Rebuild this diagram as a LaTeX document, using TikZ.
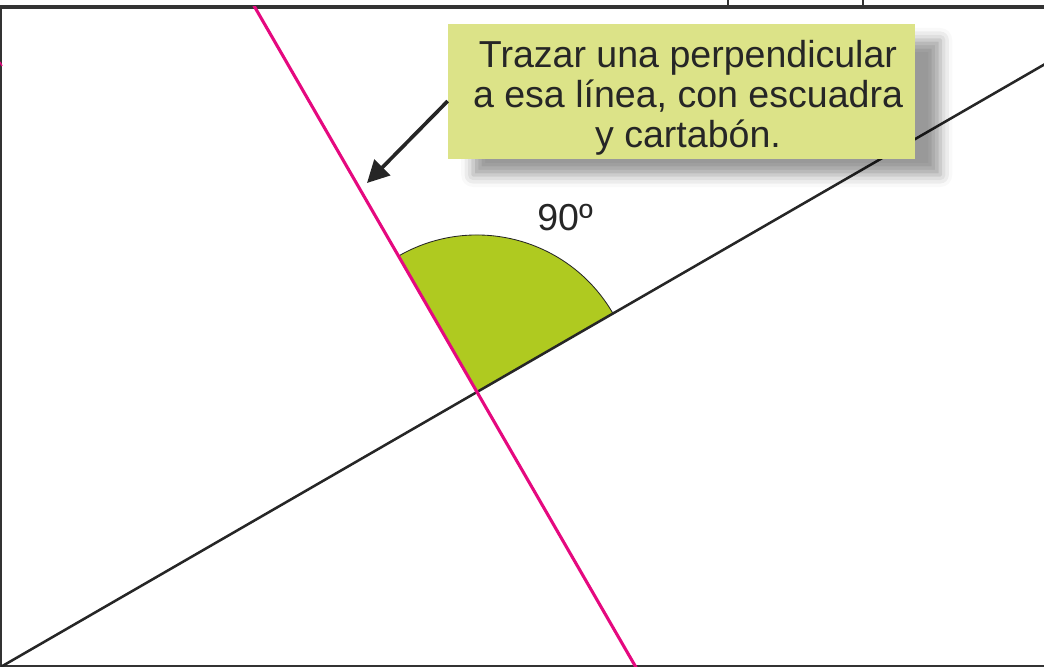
\documentclass[tikz,border=0pt]{standalone}
\usepackage{fontspec}
\setmainfont{Liberation Sans}
\usepackage{xcolor}
\usetikzlibrary{arrows.meta,shadows.blur}

\definecolor{rosa}{HTML}{E5097F}
\definecolor{verdeangulo}{HTML}{AFCA20}
\definecolor{verdenota}{HTML}{DCE388}
\definecolor{tinta}{HTML}{262626}
\definecolor{marco}{HTML}{333333}

\begin{document}
\begin{tikzpicture}[x=0.025cm, y=0.025cm,
	recta/.style={line width=1.8pt, color=tinta},
	perpendicular/.style={line width=2.2pt, color=rosa},
	nota/.style={fill=verdenota, minimum width=11.675cm, minimum height=3.375cm, inner sep=0,
		blur shadow={shadow xshift=0.63cm, shadow yshift=-0.4cm, shadow blur radius=0.3cm, shadow opacity=40}},
	texto/.style={text=tinta, font=\fontsize{26.7}{28.45}\selectfont, align=center}
]

\useasboundingbox (0,0) rectangle (1044,667);

\coordinate (O) at (477,275);

% marco
\draw[marco, line width=2.4pt] (0,660)--(1044,660);
\draw[marco, line width=1.6pt] (1,660)--(1,1);
\draw[marco, line width=1.2pt] (0,1)--(1044,1);
\draw[marco, line width=1.2pt] (728,667)--(728,660);
\draw[marco, line width=1.2pt] (863,667)--(863,660);
\draw[rosa, line width=1pt] (0,605)--(2,601);

% angulo
\filldraw[fill=verdeangulo, draw=tinta, line width=0.6pt] (O) -- ++(30:157) arc[start angle=30, end angle=120, radius=157] -- cycle;
\node[texto] (grados) at (565,449) {90º};

\begin{scope}
\clip (1,1) rectangle (1044,660);
\draw[recta] ([shift={(210:700)}]O) -- ([shift={(30:700)}]O);
\draw[perpendicular] ([shift={(120:500)}]O) -- ([shift={(-60:500)}]O);
\end{scope}

% nota
\node[nota] (caja) at (681.5,575.5) {};
\node[texto] (explica) at (688,569.5) {Trazar una perpendicular\\a esa línea, con escuadra\\y cartabón.};

\coordinate (punta) at (367,484);
\draw[tinta, line width=2.6pt, -{Triangle[length=0.55cm, width=0.55cm]}] ([yshift=-0.24cm]caja.west) -- (punta);

\end{tikzpicture}
\end{document}
